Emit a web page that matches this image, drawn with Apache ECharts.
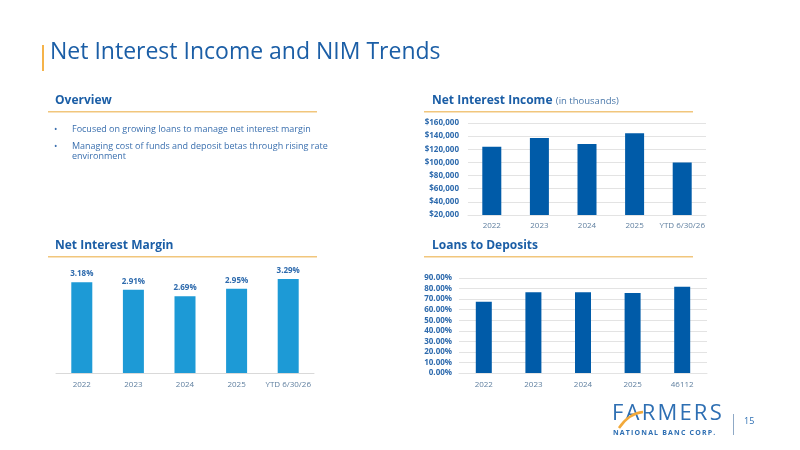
<!DOCTYPE html>
<html>
<head>
<meta charset="utf-8">
<script src="https://cdn.jsdelivr.net/npm/echarts@6/dist/echarts.min.js"></script>
<style>
  html, body { margin: 0; padding: 0; background: #fff; }
  #main { width: 800px; height: 450px; }
</style>
</head>
<body>
<div id="main"></div>
<script>
// categories
const years = ['2022', '2023', '2024', '2025', 'YTD 6/30/26'];
const ltdCategories = ['2022', '2023', '2024', '2025', '46112'];
// series values
const niiValues = [124000, 137000, 128000, 144500, 100000];   // net interest income, thousands
const nimValues = [3.18, 2.91, 2.69, 2.95, 3.29];             // net interest margin, %
const ltdValues = [67.6, 76.5, 76.5, 75.8, 81.7];             // loans to deposits, %
// text
const bullets = [
  ['Focused on growing loans to manage net interest margin'],
  ['Managing cost of funds and deposit betas through rising rate', 'environment']
];

const FONT = '"Open Sans", "Noto Sans", sans-serif';
const darkBlue = '#005ba8';
const lightBlue = '#1d9ad6';
const headBlue = '#1b5ea6';
const gold = '#f1c67c';
const gridGray = '#e3e3e3';
const xLabel = { color: '#5f7f9f', fontSize: 8, fontFamily: FONT, margin: 7, interval: 0 };
const yLabel = { color: '#2d6aad', fontSize: 8, fontWeight: 'bold', fontFamily: FONT };

// spread letters apart (logo lettering)
const spread = (s, sep) => s.split('').join(sep);

const myChart = echarts.init(document.getElementById('main'));

// 页面上的文字和装饰
let graphic = [
  { type: 'rect', shape: { x: 42, y: 45, width: 2, height: 26 }, style: { fill: '#f5b34a' } },
  { type: 'text', left: 50, top: 41, style: { text: 'Net Interest Income and NIM Trends', font: '23px ' + FONT, fill: headBlue } },
  // section headers
  { type: 'text', left: 55, top: 95, style: { text: 'Overview', font: 'bold 12px ' + FONT, fill: headBlue } },
  { type: 'rect', shape: { x: 48, y: 111, width: 269, height: 1.5 }, style: { fill: gold } },
  { type: 'text', left: 432, top: 95, style: { rich: { a: { font: 'bold 12px ' + FONT, fill: headBlue }, b: { font: '9.5px ' + FONT, fill: '#4a78aa' } }, text: '{a|Net Interest Income} {b|(in thousands)}' } },
  { type: 'rect', shape: { x: 424, y: 111, width: 269, height: 1.5 }, style: { fill: gold } },
  { type: 'text', left: 55, top: 240, style: { text: 'Net Interest Margin', font: 'bold 12px ' + FONT, fill: headBlue } },
  { type: 'rect', shape: { x: 48, y: 256, width: 269, height: 1.5 }, style: { fill: gold } },
  { type: 'text', left: 432, top: 240, style: { text: 'Loans to Deposits', font: 'bold 12px ' + FONT, fill: headBlue } },
  { type: 'rect', shape: { x: 424, y: 256, width: 269, height: 1.5 }, style: { fill: gold } },
  // logo + page number
  { type: 'text', left: 612, top: 403, style: { text: spread('FARMERS', '\u200A'), font: '22px ' + FONT, fill: '#2e6fb3' } },
  { type: 'bezierCurve', shape: { x1: 619, y1: 428, x2: 643, y2: 412, cpx1: 625, cpy1: 419, cpx2: 633, cpy2: 413 }, style: { stroke: '#f2a93b', lineWidth: 2.5, fill: null } },
  { type: 'text', left: 613, top: 429, style: { text: spread('NATIONAL BANC CORP.', '\u2009'), font: 'bold 7px ' + FONT, fill: '#2e6fb3' } },
  { type: 'rect', shape: { x: 733, y: 414, width: 1, height: 21 }, style: { fill: '#8fa9c6' } },
  { type: 'text', left: 744, top: 417, style: { text: '15', font: '9px ' + FONT, fill: '#2e6fb3' } }
];
let by = 125;
bullets.forEach(lines => {
  graphic.push({ type: 'text', left: 54, top: by, style: { text: '•', font: '9px ' + FONT, fill: '#3a6fae' } });
  lines.forEach((ln, i) => {
    graphic.push({ type: 'text', left: 72, top: by + i * 9.5, style: { text: ln, font: '9px ' + FONT, fill: '#3a6fae' } });
  });
  by += 17;
});

let option = {
  animation: false,
  backgroundColor: '#fff',
  graphic: graphic,
  grid: [
    { left: 468, top: 123, width: 238, height: 92 },   // NII
    { left: 56, top: 273, width: 258, height: 100 },   // NIM
    { left: 459, top: 278, width: 248, height: 95 }    // loans/deposits
  ],
  xAxis: [
    { type: 'category', gridIndex: 0, data: years, axisTick: { show: false }, axisLine: { lineStyle: { color: gridGray } }, axisLabel: xLabel },
    { type: 'category', gridIndex: 1, data: years, axisTick: { show: false }, axisLine: { lineStyle: { color: '#d9d9d9' } }, axisLabel: Object.assign({}, xLabel, { margin: 8 }) },
    { type: 'category', gridIndex: 2, data: ltdCategories, axisTick: { show: false }, axisLine: { lineStyle: { color: gridGray } }, axisLabel: Object.assign({}, xLabel, { margin: 8 }) }
  ],
  yAxis: [
    {
      type: 'value', gridIndex: 0, min: 20000, max: 160000, interval: 20000,
      axisLabel: Object.assign({}, yLabel, { margin: 9, formatter: v => '$' + v.toLocaleString('en-US') }),
      splitLine: { lineStyle: { color: gridGray } }
    },
    { type: 'value', gridIndex: 1, min: 0, max: 3.5, show: false, splitLine: { show: false } },
    {
      type: 'value', gridIndex: 2, min: 0, max: 90, interval: 10,
      axisLabel: Object.assign({}, yLabel, { margin: 7, formatter: v => v.toFixed(2) + '%' }),
      splitLine: { lineStyle: { color: gridGray } }
    }
  ],
  series: [
    { type: 'bar', xAxisIndex: 0, yAxisIndex: 0, data: niiValues, barWidth: 19, itemStyle: { color: darkBlue } },
    {
      type: 'bar', xAxisIndex: 1, yAxisIndex: 1, data: nimValues, barWidth: 21, itemStyle: { color: lightBlue },
      label: { show: true, position: 'top', distance: 4, formatter: p => p.value.toFixed(2) + '%', color: '#2d6aad', fontSize: 8, fontWeight: 'bold', fontFamily: FONT }
    },
    { type: 'bar', xAxisIndex: 2, yAxisIndex: 2, data: ltdValues, barWidth: 16, itemStyle: { color: darkBlue } }
  ]
};

myChart.setOption(option);
</script>
</body>
</html>
